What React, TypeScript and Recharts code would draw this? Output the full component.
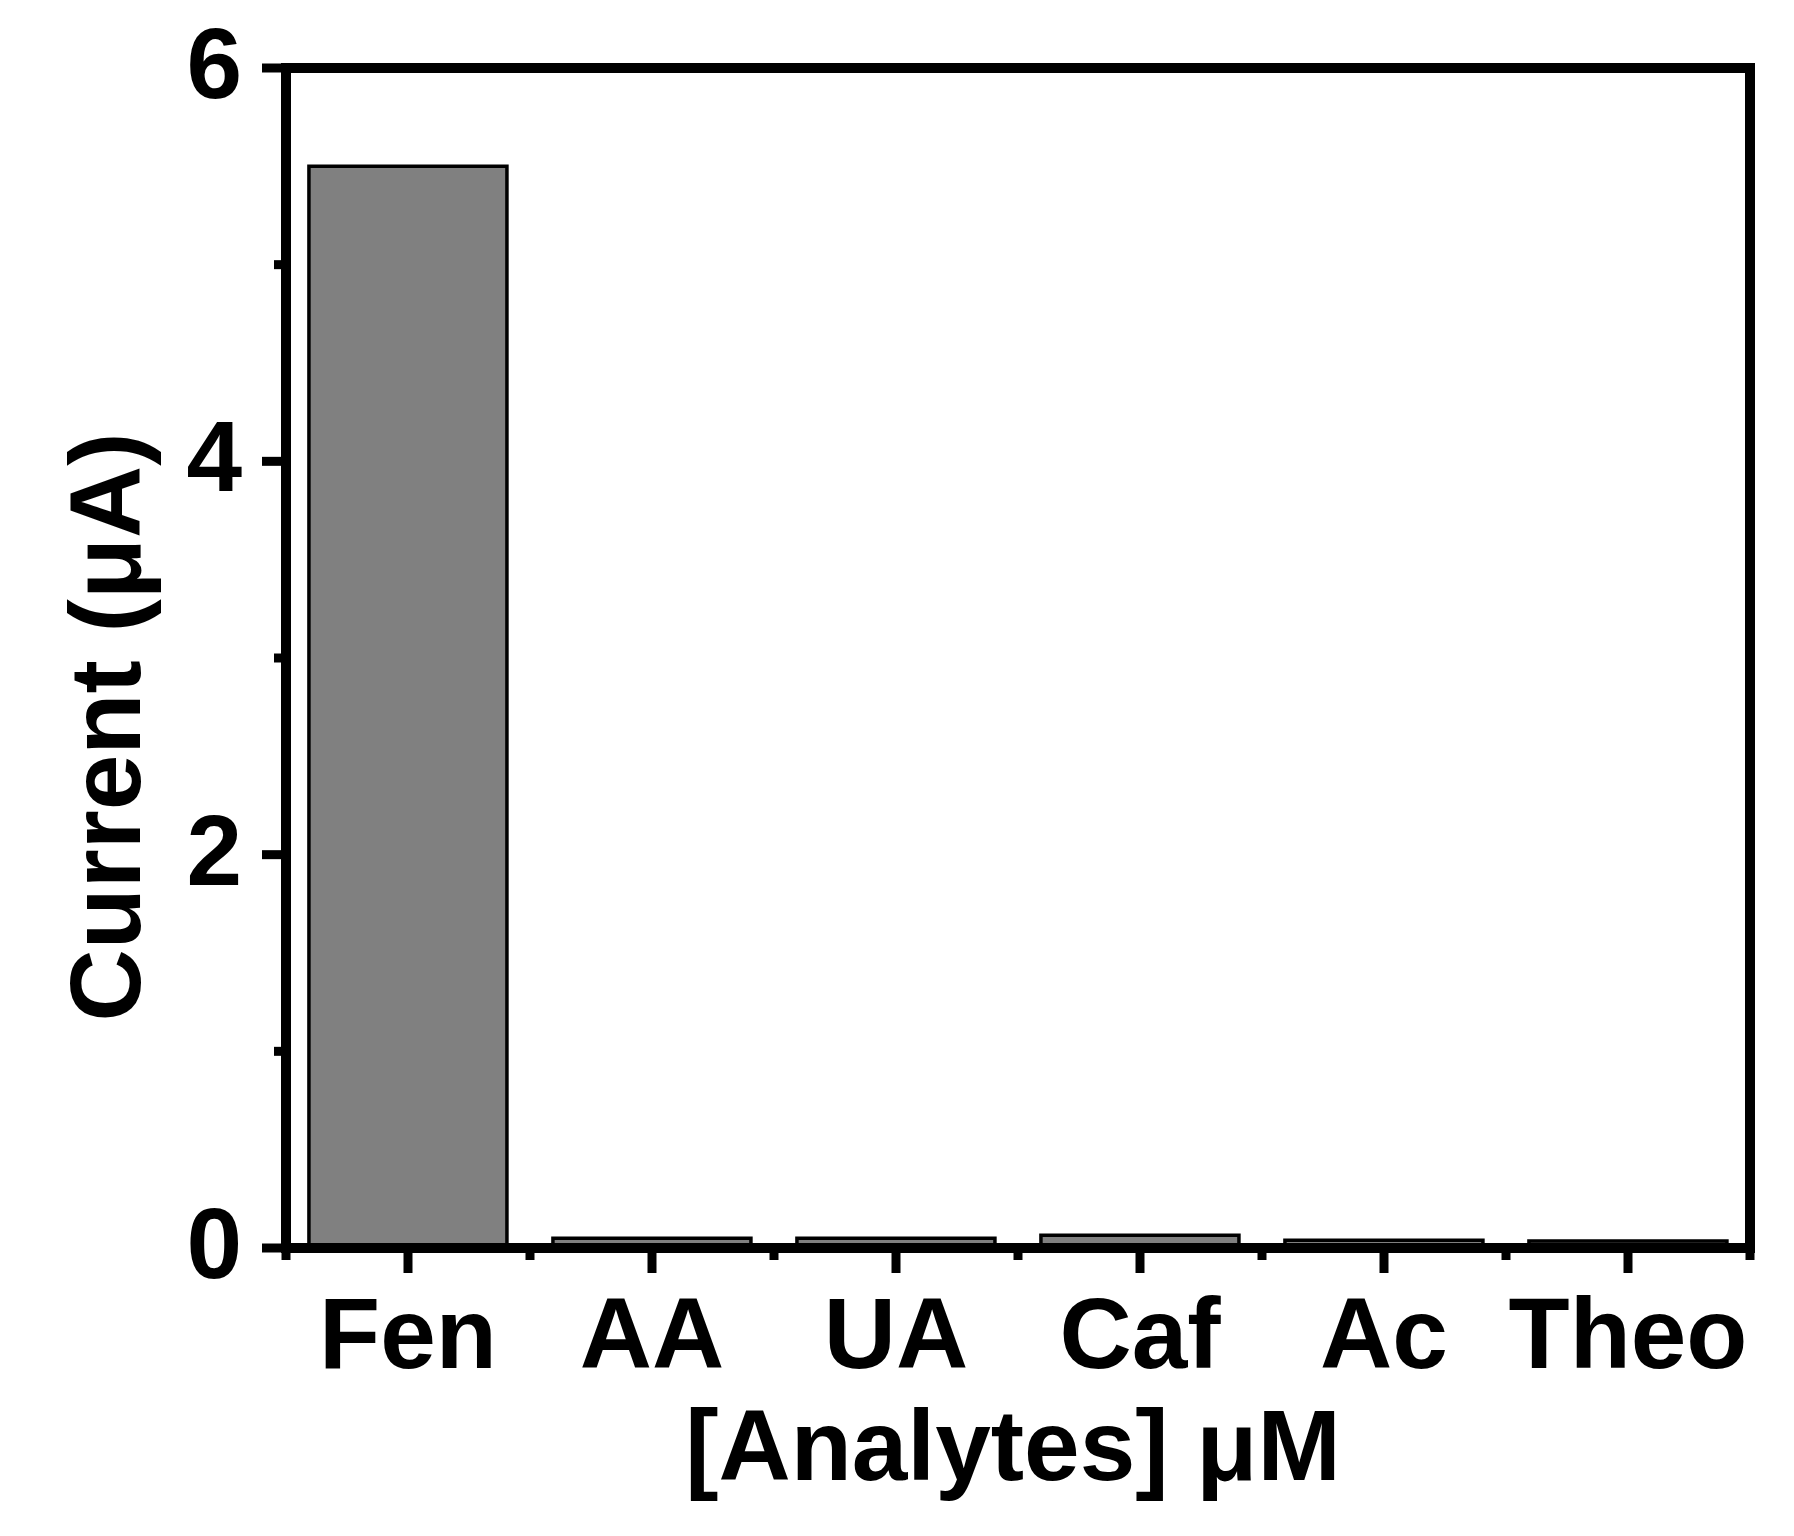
import React from 'react';
import { BarChart, Bar, XAxis, YAxis } from 'recharts';

const categories = ['Fen', 'AA', 'UA', 'Caf', 'Ac', 'Theo'];
const currents = [5.5, 0.05, 0.05, 0.065, 0.04, 0.035];
const yTicks = [0, 1, 2, 3, 4, 5, 6];
const yLabelTicks = [0, 2, 4, 6];

const data = categories.map((c, i) => ({ name: c, value: currents[i] }));

const W = 1794;
const H = 1536;
const MARGIN = { top: 66, right: 42, bottom: 0, left: 0 };
const TOP_AXIS_H = 2;
const RIGHT_AXIS_W = 2;
const Y_AXIS_W = 286;
const X_AXIS_H = 288;
const PLOT_W = W - MARGIN.left - MARGIN.right - Y_AXIS_W - RIGHT_AXIS_W;
const FONT = '"Liberation Sans", Arial, Helvetica, sans-serif';
const LINE_W = 10;
const TICK_W = 9;

const YTick = (props: any) => {
  const { x, y, payload } = props;
  const v = payload.value;
  const major = yLabelTicks.includes(v);
  return (
    <g>
      <line x1={x - (major ? 24 : 12)} x2={x} y1={y} y2={y} stroke="#000" strokeWidth={TICK_W} />
      {major && (
        <text x={x - 44} y={y + 30} textAnchor="end" fontFamily={FONT} fontWeight="bold" fontSize={100} fill="#000">
          {v}
        </text>
      )}
    </g>
  );
};

const XTick = (props: any) => {
  const { x, y, payload, index } = props;
  const band = PLOT_W / categories.length;
  const last = index === categories.length - 1;
  return (
    <g>
      <line x1={x} x2={x} y1={y} y2={y + 25} stroke="#000" strokeWidth={TICK_W} />
      <line x1={x - band / 2} x2={x - band / 2} y1={y} y2={y + 12} stroke="#000" strokeWidth={TICK_W} />
      {last && <line x1={x + band / 2} x2={x + band / 2} y1={y} y2={y + 12} stroke="#000" strokeWidth={TICK_W} />}
      <text x={x} y={y + 120} textAnchor="middle" fontFamily={FONT} fontWeight="bold" fontSize={100} fill="#000">
        {payload.value}
      </text>
    </g>
  );
};

const XLabel = (props: any) => {
  const vb = props.viewBox || { x: 0, y: 0, width: 0, height: 0 };
  return (
    <text x={vb.x + vb.width / 2 - 5} y={vb.y + 232} textAnchor="middle" fontFamily={FONT} fontWeight="bold" fontSize={100} fill="#000">
      [Analytes] μM
    </text>
  );
};

const YLabel = (props: any) => {
  const vb = props.viewBox || { x: 0, y: 0, width: 0, height: 0 };
  const cx = 140;
  const cy = vb.y + vb.height / 2 + 69;
  return (
    <text x={cx} y={cy} transform={`rotate(-90, ${cx}, ${cy})`} textAnchor="middle" fontFamily={FONT} fontWeight="bold" fontSize={100} fill="#000">
      Current (μA)
    </text>
  );
};

const axisLine = { stroke: '#000', strokeWidth: LINE_W, strokeLinecap: 'square' as const };

export default function App() {
  return (
    <div style={{ position: 'absolute', left: 0, top: 0, width: W, height: H, background: '#fff' }}>
      <BarChart width={W} height={H} data={data} margin={MARGIN} barCategoryGap="9.4%">
        <Bar
          dataKey="value"
          xAxisId="bottom"
          yAxisId="left"
          fill="#808080"
          stroke="#000"
          strokeWidth={3.5}
          isAnimationActive={false}
        />
        <XAxis
          xAxisId="bottom"
          dataKey="name"
          type="category"
          orientation="bottom"
          height={X_AXIS_H}
          axisLine={axisLine}
          strokeWidth={LINE_W}
          tickLine={false}
          tickSize={0}
          tickMargin={0}
          tick={<XTick />}
          interval={0}
          label={<XLabel />}
        />
        <XAxis
          xAxisId="top"
          dataKey="name"
          type="category"
          orientation="top"
          height={TOP_AXIS_H}
          axisLine={axisLine}
          strokeWidth={LINE_W}
          tickLine={false}
          tick={false}
        />
        <YAxis
          yAxisId="left"
          type="number"
          domain={[0, 6]}
          ticks={yTicks}
          width={Y_AXIS_W}
          axisLine={axisLine}
          strokeWidth={LINE_W}
          tickLine={false}
          tickSize={0}
          tickMargin={0}
          tick={<YTick />}
          interval={0}
          label={<YLabel />}
        />
        <YAxis
          yAxisId="right"
          orientation="right"
          type="number"
          domain={[0, 6]}
          width={RIGHT_AXIS_W}
          axisLine={axisLine}
          strokeWidth={LINE_W}
          tickLine={false}
          tick={false}
        />
      </BarChart>
    </div>
  );
}
